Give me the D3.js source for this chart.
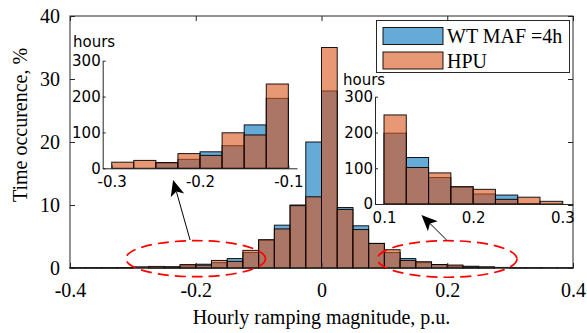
<!DOCTYPE html>
<html>
<head>
<meta charset="utf-8">
<script src="https://cdn.jsdelivr.net/npm/d3@7"></script>
<style>
  body { margin: 0; background: #fff; }
  svg { display: block; }
</style>
</head>
<body>
<div id="chart"></div>
<script>
// main histogram: left edge of each 0.025 bin, time occurrence in %
const binEdges = [-0.4, -0.375, -0.35, -0.325, -0.3, -0.275, -0.25, -0.225,
  -0.2, -0.175, -0.15, -0.125, -0.1, -0.075, -0.05, -0.025,
  0, 0.025, 0.05, 0.075, 0.1, 0.125, 0.15, 0.175,
  0.2, 0.225, 0.25, 0.275, 0.3, 0.325, 0.35, 0.375];
const binWidth = 0.025;
const wtMaf = [0.03, 0.03, 0.05, 0.05, 0.0, 0.02, 0.17, 0.35,
  0.6, 0.85, 1.5, 2.45, 4.4, 6.8, 10.0, 20.0,
  28.1, 9.6, 6.7, 3.9, 2.45, 1.5, 0.85, 0.55,
  0.32, 0.28, 0.02, 0.0, 0.04, 0.03, 0.02, 0.02];
const hpu = [0.05, 0.05, 0.06, 0.08, 0.19, 0.25, 0.18, 0.55,
  0.45, 1.2, 1.05, 2.8, 4.5, 6.2, 9.9, 11.3,
  35.0, 9.3, 6.1, 3.9, 2.9, 1.2, 1.0, 0.55,
  0.47, 0.15, 0.2, 0.09, 0.04, 0.03, 0.02, 0.02];

// insets, in hours
const leftInsetEdges = [-0.3, -0.275, -0.25, -0.225, -0.2, -0.175, -0.15, -0.125];
const leftInsetWt = [0, 0, 15, 25, 46, 63, 121, 195];
const leftInsetHpu = [17, 22, 16, 41, 36, 99, 93, 235];
const rightInsetEdges = [0.1, 0.125, 0.15, 0.175, 0.2, 0.225, 0.25, 0.275];
const rightInsetWt = [198, 130, 74, 48, 28, 25, 1, 0];
const rightInsetHpu = [249, 102, 87, 48, 41, 13, 19, 7.5];

const xTicks = [-0.4, -0.2, 0, 0.2, 0.4];
const yTicks = [0, 10, 20, 30, 40];
const insetYTicks = [0, 100, 200, 300];
const leftInsetXTicks = [-0.3, -0.2, -0.1];
const rightInsetXTicks = [0.1, 0.2, 0.3];
const seriesNames = ["WT MAF =4h", "HPU"];

// dashed ellipses and arrows, in main-axis units
const ellipses = [
  {cx: -0.2, cy: 1.48, rx: 0.111, ry: 2.86},
  {cx: 0.2, cy: 1.43, rx: 0.111, ry: 2.9}
];
const arrows = [
  {x1: -0.209, y1: 4.44, x2: -0.236, y2: 13.97},
  {x1: 0.199, y1: 4.44, x2: 0.159, y2: 8.41}
];

const blue = "#0072BD", orange = "#D95319", axisColor = "#262626";
const serif = "'Liberation Serif', 'Times New Roman', serif";
const sans = "'DejaVu Sans', Verdana, sans-serif";

const svg = d3.select("#chart").append("svg")
  .attr("width", 587).attr("height", 333);

const x = d3.scaleLinear().domain([-0.4, 0.4]).range([70, 573]);
const y = d3.scaleLinear().domain([0, 40]).range([268, 16]);

function drawBars(g, xs, ys, edges, values, color) {
  g.selectAll(null)
    .data(edges)
    .join("rect")
    .attr("x", (d) => xs(d))
    .attr("width", (d) => xs(d + binWidth) - xs(d))
    .attr("y", (d, i) => ys(values[i]))
    .attr("height", (d, i) => ys(0) - ys(values[i]))
    .attr("fill", color)
    .attr("fill-opacity", 0.6)
    .attr("stroke", "#000")
    .attr("stroke-opacity", 0.9)
    .attr("stroke-width", 1);
}

// main bars
const main = svg.append("g");
drawBars(main, x, y, binEdges, wtMaf, blue);
drawBars(main, x, y, binEdges, hpu, orange);

// main axes (ticks pointing in, box all round)
const xAxis = svg.append("g")
  .attr("transform", `translate(0,${y(0)})`)
  .call(d3.axisBottom(x).tickValues(xTicks).tickFormat((d) => String(d))
    .tickSizeInner(-5).tickSizeOuter(0).tickPadding(15));
const yAxis = svg.append("g")
  .attr("transform", `translate(${x(-0.4)},0)`)
  .call(d3.axisLeft(y).tickValues(yTicks).tickSizeInner(-5).tickSizeOuter(0).tickPadding(10));
svg.append("g")
  .attr("transform", `translate(0,${y(40)})`)
  .call(d3.axisTop(x).tickValues(xTicks).tickFormat("").tickSizeInner(-5).tickSizeOuter(0));
svg.append("g")
  .attr("transform", `translate(${x(0.4)},0)`)
  .call(d3.axisRight(y).tickValues(yTicks).tickFormat("").tickSizeInner(-5).tickSizeOuter(0));
svg.selectAll(".domain").remove();
svg.selectAll(".tick line").attr("stroke", axisColor);
[xAxis, yAxis].forEach((a) => a.selectAll("text")
  .attr("fill", "#000").style("font-family", serif).style("font-size", "20px"));

svg.append("rect")
  .attr("x", x(-0.4)).attr("y", y(40))
  .attr("width", x(0.4) - x(-0.4)).attr("height", y(0) - y(40))
  .attr("fill", "none").attr("stroke", axisColor).attr("stroke-width", 1);

svg.append("text")
  .attr("x", x(0)).attr("y", 324)
  .attr("text-anchor", "middle")
  .style("font-family", serif).style("font-size", "20px")
  .text("Hourly ramping magnitude, p.u.");
svg.append("text")
  .attr("transform", "translate(27,125) rotate(-90)")
  .attr("text-anchor", "middle")
  .style("font-family", serif).style("font-size", "20px")
  .text("Time occurence, %");

// annotations
svg.selectAll(null).data(ellipses).join("ellipse")
  .attr("cx", (d) => x(d.cx)).attr("cy", (d) => y(d.cy))
  .attr("rx", (d) => x(d.rx) - x(0)).attr("ry", (d) => y(0) - y(d.ry))
  .attr("fill", "none").attr("stroke", "#ff0000")
  .attr("stroke-width", 1.7).attr("stroke-dasharray", "11,6");

arrows.forEach((a) => {
  const x1 = x(a.x1), y1 = y(a.y1), x2 = x(a.x2), y2 = y(a.y2);
  const len = Math.hypot(x2 - x1, y2 - y1);
  const ux = (x2 - x1) / len, uy = (y2 - y1) / len;
  const headLen = 16, headW = 7;
  const bx = x2 - ux * headLen, by = y2 - uy * headLen;
  svg.append("line")
    .attr("x1", x1).attr("y1", y1).attr("x2", bx + ux * 4).attr("y2", by + uy * 4)
    .attr("stroke", "#000").attr("stroke-width", 1);
  svg.append("path")
    .attr("d", `M${x2},${y2}L${bx - uy * headW},${by + ux * headW}L${bx + ux * 4},${by + uy * 4}L${bx + uy * headW},${by - ux * headW}Z`)
    .attr("fill", "#000");
});

// insets
function drawInset(cfg) {
  const xs = d3.scaleLinear().domain(cfg.xDomain).range(cfg.xRange);
  const ys = d3.scaleLinear().domain([0, 300]).range(cfg.yRange);
  const g = svg.append("g");
  drawBars(g, xs, ys, cfg.edges, cfg.wt, blue);
  drawBars(g, xs, ys, cfg.edges, cfg.hpu, orange);

  const ax = g.append("g")
    .attr("transform", `translate(0,${ys(0)})`)
    .call(d3.axisBottom(xs).tickValues(cfg.xTicks).tickFormat((d) => String(d))
      .tickSizeInner(-3).tickSizeOuter(0).tickPadding(8));
  const ay = g.append("g")
    .attr("transform", `translate(${cfg.xRange[0]},0)`)
    .call(d3.axisLeft(ys).tickValues(insetYTicks).tickSizeInner(-3).tickSizeOuter(0).tickPadding(2));
  [ax, ay].forEach((a) => {
    a.select(".domain").attr("stroke", axisColor);
    a.selectAll(".tick line").attr("stroke", axisColor);
    a.selectAll("text").attr("fill", "#000")
      .style("font-family", sans).style("font-size", "15px");
  });
  g.append("text")
    .attr("x", cfg.labelX).attr("y", cfg.labelY)
    .style("font-family", sans).style("font-size", "15px")
    .text("hours");
}

drawInset({
  xDomain: [-0.3102, -0.0902], xRange: [102.7, 297],
  yRange: [168.3, 60.7],
  edges: leftInsetEdges, wt: leftInsetWt, hpu: leftInsetHpu,
  xTicks: leftInsetXTicks, labelX: 73, labelY: 47
});
drawInset({
  xDomain: [0.0899, 0.312], xRange: [375, 573],
  yRange: [204, 96.7],
  edges: rightInsetEdges, wt: rightInsetWt, hpu: rightInsetHpu,
  xTicks: rightInsetXTicks, labelX: 343, labelY: 85
});

// legend
const legend = svg.append("g");
legend.append("rect")
  .attr("x", 376.5).attr("y", 20.5).attr("width", 193).attr("height", 52)
  .attr("fill", "#fff").attr("stroke", axisColor).attr("stroke-width", 1);
legend.selectAll(null).data(seriesNames).join("rect")
  .attr("x", 383).attr("y", (d, i) => 27.5 + i * 24.5)
  .attr("width", 60).attr("height", 17)
  .attr("fill", (d, i) => [blue, orange][i]).attr("fill-opacity", 0.6)
  .attr("stroke", "#000").attr("stroke-opacity", 0.9).attr("stroke-width", 1);
legend.selectAll(null).data(seriesNames).join("text")
  .attr("x", 447).attr("y", (d, i) => 43.3 + i * 24.4)
  .style("font-family", serif).style("font-size", "20px")
  .text((d) => d);
</script>
</body>
</html>
